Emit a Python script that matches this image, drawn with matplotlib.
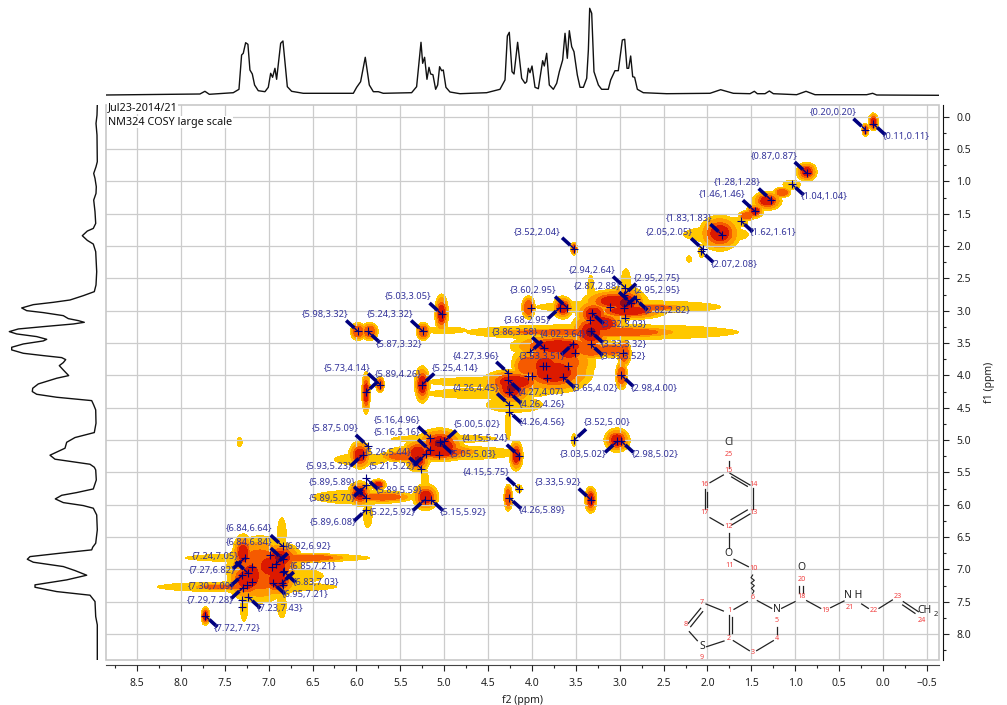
"""NM324 COSY contour map with 1D projections and the molecule inset."""
import matplotlib

matplotlib.use("Agg")
import matplotlib.pyplot as plt
from matplotlib.patches import Ellipse, Rectangle
from matplotlib.ticker import MultipleLocator
from matplotlib.transforms import Affine2D, IdentityTransform

W, H = 1007, 705
plt.rcParams["font.family"] = ["Noto Sans", "DejaVu Sans"]

# 1D projection on top: ppm / relative height
TOP_PPM = [8.854, 7.783, 7.726, 7.676, 7.403, 7.338, 7.308, 7.289, 7.262, 7.236, 7.213, 7.186, 7.160,
           7.118, 7.042, 7.004, 6.977, 6.955, 6.928, 6.909, 6.863, 6.837, 6.787, 6.738, 6.605, 6.035,
           5.997, 5.952, 5.899, 5.853, 5.807, 5.750, 5.694, 5.371, 5.314, 5.264, 5.245, 5.223, 5.196,
           5.173, 5.154, 5.128, 5.097, 5.074, 5.052, 5.029, 5.010, 4.980, 4.934, 4.820, 4.516, 4.364,
           4.307, 4.280, 4.258, 4.227, 4.204, 4.163, 4.117, 4.079, 4.060, 4.041, 4.022, 3.999, 3.965,
           3.927, 3.878, 3.859, 3.832, 3.802, 3.756, 3.718, 3.688, 3.650, 3.623, 3.597, 3.574, 3.547,
           3.521, 3.483, 3.452, 3.414, 3.376, 3.357, 3.342, 3.319, 3.293, 3.243, 3.206, 3.130, 3.103,
           3.054, 3.016, 2.970, 2.943, 2.917, 2.898, 2.875, 2.852, 2.830, 2.799, 2.731, 2.465, 1.971,
           1.850, 1.705, 1.515, 1.466, 1.432, 1.344, 1.295, 1.249, 0.984, 0.877, 0.775, 0.186, 0.118,
           0.072, -0.638]
TOP_H = [0.5, 1.5, 4.2, 1.2, 2.8, 6.2, 40.5, 42.2, 52.8, 51.2, 25.5, 21.5, 10.5,
         4.8, 3.8, 8.2, 22.2, 18.2, 27.2, 16.2, 52.2, 54.5, 8.8, 4.2, 2.2, 2.2,
         8.2, 13.8, 38.2, 10.5, 3.8, 3.8, 2.2, 2.8, 8.8, 53.2, 32.2, 38.2, 16.2,
         28.2, 21.5, 20.8, 6.2, 10.5, 28.8, 24.8, 25.5, 8.2, 3.5, 1.8, 2.8, 6.2,
         15.5, 59.5, 63.2, 23.8, 21.5, 53.2, 17.2, 12.2, 13.8, 27.2, 22.8, 29.5, 8.2,
         6.8, 34.8, 29.5, 42.2, 10.5, 6.2, 12.2, 23.8, 35.5, 62.2, 37.2, 64.8, 48.8,
         43.8, 20.5, 8.2, 8.2, 17.2, 45.5, 87.2, 82.2, 23.8, 10.5, 6.2, 6.2, 15.5,
         24.8, 24.8, 55.5, 56.2, 27.2, 27.2, 39.5, 18.8, 18.2, 6.2, 2.8, 1.8, 2.2,
         5.8, 2.2, 1.8, 4.2, 1.8, 1.8, 4.5, 1.8, 0.8, 4.2, 0.8, 0.8, 2.2,
         0.5, 0.2]

# 1D projection on the left: ppm / relative height
LEFT_PPM = [-0.18, -0.026, 0.103, 0.283, 0.695, 0.773, 0.876, 0.953, 1.082, 1.185, 1.288, 1.468, 1.649,
            1.726, 1.767, 1.839, 1.911, 1.968, 2.086, 2.396, 2.601, 2.704, 2.766, 2.833, 2.869, 2.905,
            2.956, 2.998, 3.028, 3.075, 3.121, 3.152, 3.178, 3.204, 3.245, 3.281, 3.322, 3.358, 3.399,
            3.441, 3.466, 3.513, 3.564, 3.605, 3.657, 3.693, 3.724, 3.755, 3.801, 3.848, 3.915, 4.002,
            4.043, 4.131, 4.198, 4.249, 4.291, 4.337, 4.389, 4.456, 4.533, 4.739, 4.883, 4.960, 5.033,
            5.125, 5.233, 5.295, 5.373, 5.419, 5.461, 5.616, 5.755, 5.811, 5.853, 5.909, 5.966, 6.012,
            6.053, 6.157, 6.388, 6.594, 6.656, 6.697, 6.749, 6.801, 6.842, 6.888, 6.955, 7.017, 7.089,
            7.161, 7.238, 7.275, 7.342, 7.398, 7.496, 7.728, 7.857, 8.398]
LEFT_H = [0.2, 0.5, 1.5, 0.5, 0.2, 1.5, 3.8, 2.5, 1.2, 1.5, 3.8, 2.5, 1.8,
          4.2, 10.2, 15.2, 10.2, 4.2, 1.8, 0.8, 1.5, 3.2, 14.2, 27.5, 44.2, 64.2,
          75.8, 70.8, 54.2, 34.2, 29.2, 19.2, 13.2, 24.2, 54.2, 79.2, 88.2, 80.8, 60.8,
          50.8, 54.2, 74.2, 85.8, 85.8, 74.2, 54.2, 35.8, 31.8, 34.2, 38.2, 34.2, 28.8,
          40.8, 59.2, 64.8, 65.2, 60.8, 40.8, 5.8, 3.8, 1.8, 1.5, 3.2, 22.5, 30.8,
          32.5, 47.5, 42.5, 7.5, 3.2, 1.8, 1.2, 4.2, 20.8, 35.8, 42.2, 34.2, 14.2,
          4.2, 0.8, 0.2, 1.8, 4.8, 5.8, 37.5, 67.5, 70.2, 64.2, 34.2, 22.5, 10.8,
          30.8, 62.5, 62.5, 40.8, 7.5, 2.5, 1.8, 0.2, 0.2]

# picked peaks: f2, f1, where the label centre sits (picture px), arrow side
PEAK_F2 = [0.20, 0.11, 0.87, 1.04, 1.28, 1.46, 1.62, 1.83, 2.05, 2.07, 2.94, 2.95, 2.87, 2.95, 2.82,
           3.32, 3.33, 3.33, 3.60, 3.68, 3.86, 4.02, 3.53, 5.03, 5.98, 5.24, 5.87, 4.27, 5.73, 5.89,
           5.25, 4.26, 4.27, 4.26, 4.26, 3.65, 2.98, 5.16, 5.16, 5.00, 5.87, 4.15, 5.05, 5.26, 5.93,
           5.21, 4.15, 3.52, 3.03, 2.98, 3.33, 4.26, 5.15, 5.22, 5.89, 5.89, 5.89, 5.89, 6.84, 6.84,
           6.92, 7.24, 7.27, 7.30, 7.29, 7.23, 7.72, 6.85, 6.83, 6.95, 3.52]
PEAK_F1 = [0.20, 0.11, 0.87, 1.04, 1.28, 1.46, 1.61, 1.83, 2.05, 2.08, 2.64, 2.75, 2.88, 2.95, 2.82,
           3.03, 3.32, 3.52, 2.95, 2.95, 3.58, 3.64, 3.51, 3.05, 3.32, 3.32, 3.32, 3.96, 4.14, 4.26,
           4.14, 4.45, 4.07, 4.26, 4.56, 4.02, 4.00, 4.96, 5.16, 5.02, 5.09, 5.24, 5.03, 5.44, 5.23,
           5.22, 5.75, 5.00, 5.02, 5.02, 5.92, 5.89, 5.92, 5.92, 5.89, 5.59, 5.70, 6.08, 6.64, 6.84,
           6.92, 7.05, 6.82, 7.09, 7.28, 7.43, 7.72, 7.21, 7.03, 7.21, 2.04]
LABEL_X = [833, 906, 774, 824, 737, 722, 773, 689, 669, 734, 592, 657, 597, 657, 667,
           624, 624, 623, 533, 527, 515, 563, 542, 408, 325, 390, 399, 476, 347, 398,
           455, 476, 541, 542, 542, 595, 654, 397, 397, 477, 335, 485, 473, 388, 329,
           392, 486, 607, 583, 655, 558, 542, 463, 392, 332, 399, 332, 333, 249, 249,
           308, 215, 212, 211, 210, 280, 237, 313, 316, 305, 537]
LABEL_Y = [113, 136, 156, 196, 183, 195, 233, 218, 233, 264, 271, 278, 286, 291, 311,
           325, 344, 357, 291, 320, 332, 335, 356, 297, 315, 315, 344, 356, 368, 375,
           368, 388, 392, 404, 423, 388, 388, 421, 433, 424, 428, 439, 455, 452, 467,
           466, 472, 423, 454, 454, 483, 510, 512, 512, 482, 491, 498, 522, 529, 542,
           547, 556, 571, 587, 600, 609, 628, 566, 583, 595, 232]
ARROW_SIDE = ["ul", "lr", "ul", "lr", "ul", "ul", "lr", "ul", "ul", "lr", "ul", "ur", "ul", "ur", "lr",
              "lr", "lr", "lr", "ul", "ll", "ul", "ur", "ll", "ul", "ul", "ul", "lr", "ul", "ul", "ur",
              "ur", "ul", "lr", "lr", "lr", "lr", "lr", "ul", "ul", "ur", "ul", "ul", "lr", "ul", "ll",
              "ll", "ul", "ur", "ll", "lr", "ul", "lr", "lr", "ll", "ul", "lr", "ll", "ll", "ul", "ul",
              "ur", "ul", "ll", "ll", "ll", "lr", "lr", "ur", "lr", "lr", "ul"]
# crosses whose labels were dropped by the peak picker
EXTRA_F2 = [3.51, 3.87, 3.84, 3.59, 4.05, 4.00, 3.83, 2.96, 3.11, 2.94, 3.34, 7.19, 6.98, 7.19, 7.25,
            7.30, 7.30, 6.84, 6.84, 6.96, 5.06, 4.01]
EXTRA_F1 = [3.65, 3.85, 3.85, 3.85, 4.01, 4.01, 4.04, 3.65, 2.94, 3.11, 3.14, 6.96, 6.78, 7.19, 7.24,
            7.47, 7.58, 7.24, 7.04, 6.96, 5.23, 2.95]

# contour blobs: centre f2, centre f1, half widths, top contour level
BLOB_F2 = [0.11, 0.20, 0.87, 1.04, 1.15, 1.32, 1.46, 1.55, 1.66, 1.86, 1.90, 2.07, 2.21, 3.52,
           3.20, 2.90, 4.55, 4.50, 3.33, 2.94, 3.30, 3.75, 3.85, 3.58, 4.23, 3.33, 2.95, 2.98, 4.04, 3.65,
           3.33, 2.93, 4.27, 5.03, 5.98, 5.85, 5.24, 5.00, 5.89, 5.73, 5.25,
           5.05, 5.10, 4.75, 5.00, 5.30, 5.96, 5.95, 4.18, 3.52, 3.03, 4.27, 4.15, 3.33, 5.21, 5.96, 5.75,
           5.92, 5.70, 5.87, 5.22, 7.33,
           7.72, 7.29, 7.25, 6.87, 6.90, 7.05, 7.05, 6.90, 7.25, 7.50, 6.50, 6.85, 6.85, 7.28, 6.60,
           3.70, 3.75, 4.20, 4.05, 3.05, 2.90, 3.20, 3.00, 3.10, 4.20, 3.60, 2.70,
           7.10, 6.95, 7.20, 6.90, 6.60, 5.05, 5.30, 5.00, 5.45, 5.70]
BLOB_F1 = [0.08, 0.20, 0.85, 1.05, 1.17, 1.30, 1.46, 1.53, 1.63, 1.80, 1.82, 2.08, 2.20, 2.04,
           3.33, 2.94, 4.10, 4.28, 3.33, 2.88, 3.05, 3.80, 3.85, 3.62, 4.19, 3.60, 3.65, 4.00, 2.95, 2.95,
           2.75, 2.65, 4.75, 3.04, 3.32, 3.32, 3.32, 3.30, 4.27, 4.14, 4.14,
           5.05, 5.18, 5.20, 4.98, 5.30, 5.23, 5.30, 5.24, 5.00, 5.00, 5.89, 5.75, 5.92, 5.88, 5.83, 5.69,
           5.88, 5.88, 6.15, 5.62, 5.03,
           7.72, 6.75, 7.16, 6.82, 7.16, 6.93, 7.20, 6.82, 7.27, 7.27, 6.82, 6.45, 7.55, 7.60, 7.10,
           3.55, 3.95, 4.10, 3.85, 2.85, 3.00, 3.20, 3.33, 3.60, 4.45, 3.33, 2.95,
           7.00, 6.95, 7.10, 7.10, 6.82, 5.18, 5.20, 5.10, 5.25, 5.88]
BLOB_WX = [0.06, 0.04, 0.12, 0.10, 0.10, 0.17, 0.10, 0.10, 0.12, 0.24, 0.37, 0.03, 0.03, 0.04,
           1.55, 1.05, 0.65, 0.70, 0.24, 0.25, 0.20, 0.48, 0.24, 0.22, 0.24, 0.22, 0.08, 0.07, 0.08, 0.12,
           0.04, 0.06, 0.03, 0.08, 0.09, 0.10, 0.08, 0.25, 0.05, 0.05, 0.09,
           0.27, 0.55, 0.55, 0.60, 0.14, 0.13, 0.30, 0.08, 0.03, 0.15, 0.05, 0.04, 0.07, 0.15, 0.14, 0.09,
           0.58, 0.30, 0.05, 0.04, 0.03,
           0.05, 0.12, 0.22, 0.25, 0.22, 0.22, 0.22, 1.05, 1.02, 0.40, 0.40, 0.05, 0.05, 0.04, 0.22,
           0.55, 0.45, 0.38, 0.18, 0.38, 0.45, 0.28, 0.75, 0.20, 0.32, 0.95, 0.50,
           0.38, 0.32, 0.20, 0.20, 0.55, 0.40, 0.18, 0.22, 0.30, 0.35]
BLOB_WY = [0.14, 0.10, 0.15, 0.07, 0.08, 0.15, 0.11, 0.08, 0.08, 0.28, 0.12, 0.10, 0.05, 0.10,
           0.12, 0.10, 0.07, 0.08, 0.32, 0.27, 0.22, 0.38, 0.27, 0.24, 0.27, 0.15, 0.22, 0.22, 0.18, 0.18,
           0.30, 0.30, 0.25, 0.30, 0.14, 0.14, 0.14, 0.05, 0.33, 0.13, 0.29,
           0.24, 0.11, 0.10, 0.06, 0.20, 0.22, 0.09, 0.24, 0.10, 0.19, 0.21, 0.06, 0.21, 0.21, 0.20, 0.09,
           0.11, 0.07, 0.20, 0.20, 0.07,
           0.15, 0.30, 0.32, 0.24, 0.27, 0.09, 0.11, 0.07, 0.08, 0.05, 0.05, 0.25, 0.20, 0.20, 0.10,
           0.20, 0.33, 0.20, 0.22, 0.18, 0.14, 0.22, 0.09, 0.12, 0.12, 0.06, 0.06,
           0.52, 0.32, 0.38, 0.22, 0.07, 0.15, 0.22, 0.20, 0.09, 0.08]
BLOB_LEVEL = [3, 2, 3, 1, 2, 3, 3, 2, 1, 3, 1, 1, 1, 2,
              1, 1, 1, 1, 4, 4, 3, 2, 3, 3, 4, 2, 2, 2, 2, 3,
              1, 1, 1, 3, 2, 2, 2, 1, 3, 2, 3,
              4, 2, 1, 1, 4, 3, 1, 3, 1, 3, 2, 1, 3, 3, 4, 3,
              1, 2, 1, 1, 1,
              3, 3, 3, 4, 3, 2, 2, 1, 1, 2, 2, 1, 1, 1, 1,
              3, 3, 3, 2, 3, 3, 3, 2, 2, 1, 2, 2,
              2, 3, 3, 3, 2, 3, 3, 3, 2, 2]
# (lowest blob level that reaches the band, share of the blob's size, colour)
BANDS = [(1, 1.0, "#ffc800"), (2, 0.8, "#ff9a00"), (2, 0.58, "#f55a00"), (3, 0.42, "#dc1a00"),
         (4, 0.2, "#8e0a1e")]
ARROW_OFFSET = {"ul": (-12, 11), "lr": (12, -11), "ur": (12, 11), "ll": (-12, -11)}

# picture pixels -> display units, used for labels and the molecule
PX = Affine2D().scale(1, -1).translate(0, H)


def mol(zx, zy):
    return 660 + zx / 3, 430 + zy / 3


BONDS = [(206, 92, 206, 115), (210, 130, 270, 165), (215, 141, 262, 169), (279, 175, 279, 238),
         (270, 252, 215, 285), (262, 240, 213, 269), (190, 286, 150, 263), (134, 178, 134, 238),
         (142, 185, 142, 232), (150, 158, 190, 135), (206, 310, 206, 355), (222, 388, 265, 410),
         (262, 515, 222, 538), (292, 512, 335, 535), (207, 555, 207, 612), (215, 560, 215, 608),
         (220, 632, 268, 662), (290, 662, 340, 632), (351, 612, 351, 590), (365, 535, 405, 515),
         (418, 468, 418, 490), (430, 468, 430, 490), (440, 512, 482, 535), (512, 533, 552, 513),
         (605, 522, 625, 535), (657, 535, 697, 510), (730, 515, 775, 545), (728, 525, 765, 550),
         (190, 543, 138, 522), (122, 535, 85, 580), (128, 545, 92, 590), (88, 605, 112, 632),
         (140, 650, 192, 633)]
ATOMS = [("Cl", 206, 37), ("O", 206, 372), ("N", 351, 540), ("S", 126, 649), ("O", 424, 413),
         ("N H", 580, 497), ("CH", 792, 541)]
NUMBERS = [("25", 206, 73), ("15", 206, 123), ("14", 279, 165), ("13", 279, 248), ("12", 206, 291),
           ("16", 134, 165), ("17", 134, 248), ("11", 208, 406), ("10", 279, 415), ("6", 277, 503),
           ("1", 207, 543), ("2", 205, 626), ("3", 279, 668), ("4", 350, 626), ("5", 351, 573),
           ("7", 126, 516), ("8", 76, 584), ("9", 126, 682), ("18", 424, 498), ("20", 424, 449),
           ("19", 497, 541), ("21", 570, 532), ("22", 641, 541), ("23", 713, 498), ("24", 786, 573)]
WAVY = [(278, 435), (273, 443), (283, 451), (273, 459), (283, 467), (274, 475), (282, 483), (278, 490)]

fig = plt.figure(figsize=(W / 100, H / 100), dpi=100)
x0, x1, y_top, y_bot = 106, 939, 104.5, 660
ax = fig.add_axes([x0 / W, 1 - y_bot / H, (x1 - x0) / W, (y_bot - y_top) / H])
ax.set_xlim(8.853, -0.638)
ax.set_ylim(8.40, -0.19)

# contour blobs, band by band so overlapping ones merge
for band, (min_level, scale, color) in enumerate(BANDS):
    for f2, f1, wx, wy, top_level in zip(BLOB_F2, BLOB_F1, BLOB_WX, BLOB_WY, BLOB_LEVEL):
        if top_level < min_level:
            continue
        ax.add_patch(Ellipse((f2, f1), 2 * wx * scale, 2 * wy * scale, facecolor=color,
                             edgecolor="none", antialiased=False, zorder=1 + band))

ax.xaxis.set_major_locator(MultipleLocator(0.5))
ax.yaxis.set_major_locator(MultipleLocator(0.5))
ax.xaxis.set_minor_locator(MultipleLocator(0.25))
ax.yaxis.set_minor_locator(MultipleLocator(0.25))
ax.grid(True, which="major", color="#cccccc", lw=0.9, zorder=6)
ax.set_axisbelow(False)
ax.add_patch(Rectangle((0, 0), 1, 1, transform=ax.transAxes, fill=False, edgecolor="#c8c8c8", lw=1.2,
                       zorder=6, clip_on=False))

for side in ("top", "left"):
    ax.spines[side].set_visible(False)
ax.spines["right"].set_position(("outward", 3))
ax.spines["bottom"].set_position(("outward", 3.5))
ax.spines["right"].set_color("#111111")
ax.spines["bottom"].set_color("#444444")
ax.yaxis.tick_right()
ax.yaxis.set_label_position("right")
ax.tick_params(which="major", length=4.5, width=0.8, labelsize=7.5, pad=5, color="#222222", labelcolor="#222222")
ax.tick_params(which="minor", length=2.2, width=0.8, color="#222222")
ax.set_xlabel("f2 (ppm)", fontsize=7.5, labelpad=4, color="#222222")
ax.set_ylabel("f1 (ppm)", fontsize=7.5, labelpad=9, color="#222222")

# picked peaks
ax.plot(PEAK_F2, PEAK_F1, "+", color="#00007f", ms=6, mew=0.8, zorder=8, ls="none")
ax.plot(EXTRA_F2, EXTRA_F1, "+", color="#00007f", ms=6, mew=0.8, zorder=8, ls="none")
for f2, f1, lx, ly, side in zip(PEAK_F2, PEAK_F1, LABEL_X, LABEL_Y, ARROW_SIDE):
    cx, cy = ax.transData.transform((f2, f1))
    tx, ty = cx + ARROW_OFFSET[side][0], cy + ARROW_OFFSET[side][1]
    # heavy at the label end, thin where it meets the cross
    mx, my = tx + (cx - tx) * 0.68, ty + (cy - ty) * 0.68
    ax.plot([tx, mx], [ty, my], color="#00007f", lw=2.6, solid_capstyle="butt",
            transform=IdentityTransform(), zorder=9, clip_on=False)
    ax.plot([mx, cx], [my, cy], color="#00007f", lw=1.0, solid_capstyle="butt",
            transform=IdentityTransform(), zorder=9, clip_on=False)
    ax.text(lx, ly, f"{{{f2:.2f},{f1:.2f}}}", transform=PX, ha="center", va="center", fontsize=6.7,
            color="#33339a", zorder=10, clip_on=False)

ax.text(108, 108, "Jul23-2014/21", transform=PX, ha="left", va="center", fontsize=7.8, color="#111111",
        zorder=7, bbox=dict(facecolor="white", edgecolor="none", pad=0.4))
ax.text(108, 122, "NM324 COSY large scale", transform=PX, ha="left", va="center", fontsize=7.8,
        color="#111111", zorder=7, bbox=dict(facecolor="white", edgecolor="none", pad=0.4))

# molecule inset
for xa, ya, xb, yb in BONDS:
    pa, pb = mol(xa, ya), mol(xb, yb)
    ax.plot([pa[0], pb[0]], [pa[1], pb[1]], color="#222222", lw=0.9, transform=PX, zorder=7)
wavy = [mol(*p) for p in WAVY]
ax.plot([p[0] for p in wavy], [p[1] for p in wavy], color="#222222", lw=0.8, transform=PX, zorder=7)
for txt, zx, zy in ATOMS:
    px, py = mol(zx, zy)
    ax.text(px, py, txt, transform=PX, ha="center", va="center", fontsize=7.5, color="#222222", zorder=7)
px, py = mol(827, 552)
ax.text(px, py, "2", transform=PX, ha="center", va="center", fontsize=5.5, color="#222222", zorder=7,
        clip_on=False)
for txt, zx, zy in NUMBERS:
    px, py = mol(zx, zy)
    ax.text(px, py, txt, transform=PX, ha="center", va="center", fontsize=5.2, color="#f04040", zorder=7)

# projections share the ppm scales of the map
top = fig.add_axes([x0 / W, 1 - 95.5 / H, (x1 - x0) / W, 95.5 / H])
top.set_xlim(ax.get_xlim())
top.set_ylim(0, 95.5)
top.plot(TOP_PPM, TOP_H, color="#111111", lw=1.0)
top.axis("off")

left = fig.add_axes([0, 1 - y_bot / H, 97.5 / W, (y_bot - y_top) / H])
left.set_xlim(97.5, 0)
left.set_ylim(ax.get_ylim())
left.plot(LEFT_H, LEFT_PPM, color="#111111", lw=1.0)
left.axis("off")

fig.savefig("out.png", dpi=100)
